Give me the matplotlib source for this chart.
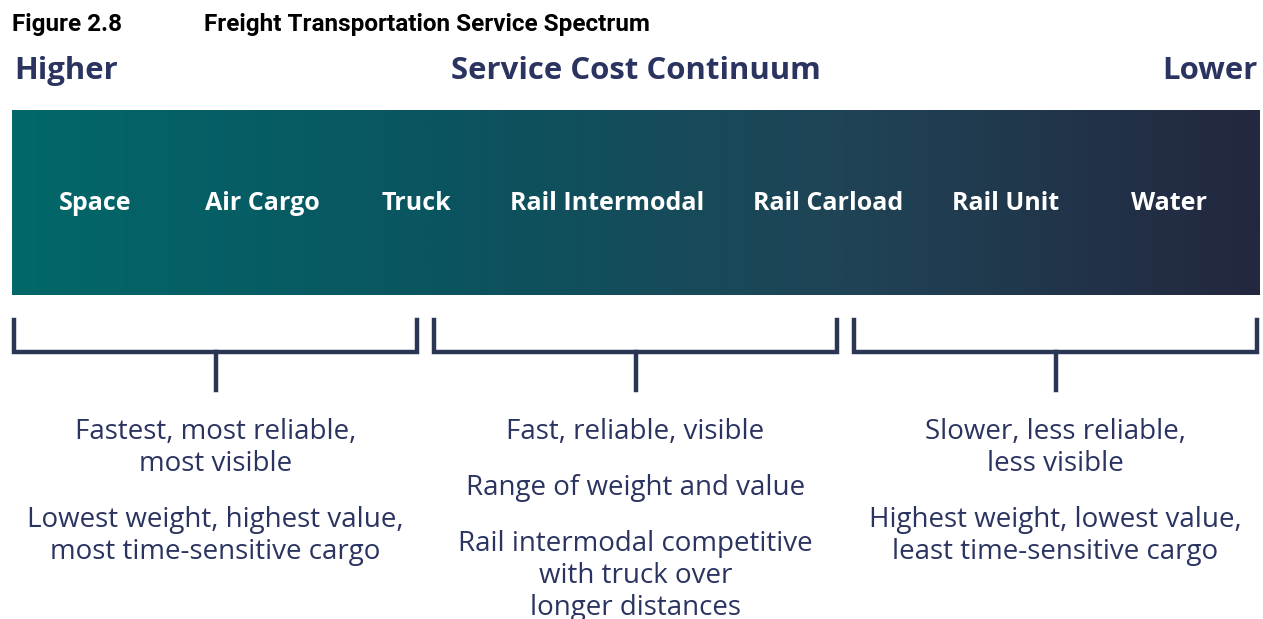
import numpy as np
import matplotlib.pyplot as plt
from matplotlib.colors import LinearSegmentedColormap

# data
modes = ['Space', 'Air Cargo', 'Truck', 'Rail Intermodal', 'Rail Carload', 'Rail Unit', 'Water']
groups = [
    ['Fastest, most reliable,\nmost visible', 'Lowest weight, highest value,\nmost time-sensitive cargo'],
    ['Fast, reliable, visible', 'Range of weight and value',
     'Rail intermodal competitive\nwith truck over\nlonger distances'],
    ['Slower, less reliable,\nless visible', 'Highest weight, lowest value,\nleast time-sensitive cargo'],
]

# layout (pixels)
W, H = 1263, 619
mode_x = [95, 262, 416, 607, 828, 1006, 1169]
brackets = [(14, 417), (434, 837), (854, 1257)]
block_y = [[432, 520], [432, 488, 544], [432, 520]]
line_h = 32
navy = '#2b3460'
line_col = '#2a3654'
font = ['Open Sans', 'DejaVu Sans']

fig = plt.figure(figsize=(W / 100, H / 100), dpi=100)
ax = fig.add_axes([0, 0, 1, 1])
ax.set_xlim(0, W)
ax.set_ylim(H, 0)
ax.axis('off')

# gradient band
cmap = LinearSegmentedColormap.from_list('band', ['#02686a', '#0a5560', '#1f4456', '#23273f'])
grad = np.linspace(0, 1, 512).reshape(1, -1)
ax.imshow(grad, cmap=cmap, aspect='auto', extent=(12, 1260, 295, 110), zorder=1)

# titles
ax.text(12, 24, 'Figure 2.8', fontsize=17.5, fontweight='bold', ha='left', va='center',
        family=['Roboto', 'DejaVu Sans'], color='black')
ax.text(204, 24, 'Freight Transportation Service Spectrum', fontsize=17.5, fontweight='bold',
        ha='left', va='center', family=['Roboto', 'DejaVu Sans'], color='black')
ax.text(14, 71, 'Higher', fontsize=22.4, fontweight='bold', ha='left', va='center', color=navy, family=font)
ax.text(636, 71, 'Service Cost Continuum', fontsize=22.4, fontweight='bold', ha='center', va='center',
        color=navy, family=font)
ax.text(1258, 71, 'Lower', fontsize=22.4, fontweight='bold', ha='right', va='center', color=navy, family=font)

for name, x in zip(modes, mode_x):
    ax.text(x, 204, name, fontsize=18, fontweight='bold', color='white', ha='center', va='center',
            family=font, zorder=3)

# brackets and descriptions
for (x0, x1), texts, ys in zip(brackets, groups, block_y):
    xm = (x0 + x1) / 2
    ax.plot([x0, x0, x1, x1], [320, 352, 352, 320], color=line_col, lw=3.2, solid_joinstyle='miter')
    ax.plot([xm, xm], [352, 390], color=line_col, lw=3.2)
    for t, y in zip(texts, ys):
        for i, ln in enumerate(t.split('\n')):
            ax.text(xm, y + i * line_h, ln, fontsize=20, color=navy, ha='center', va='center',
                    family=font)

fig.savefig('out.png', dpi=100)
